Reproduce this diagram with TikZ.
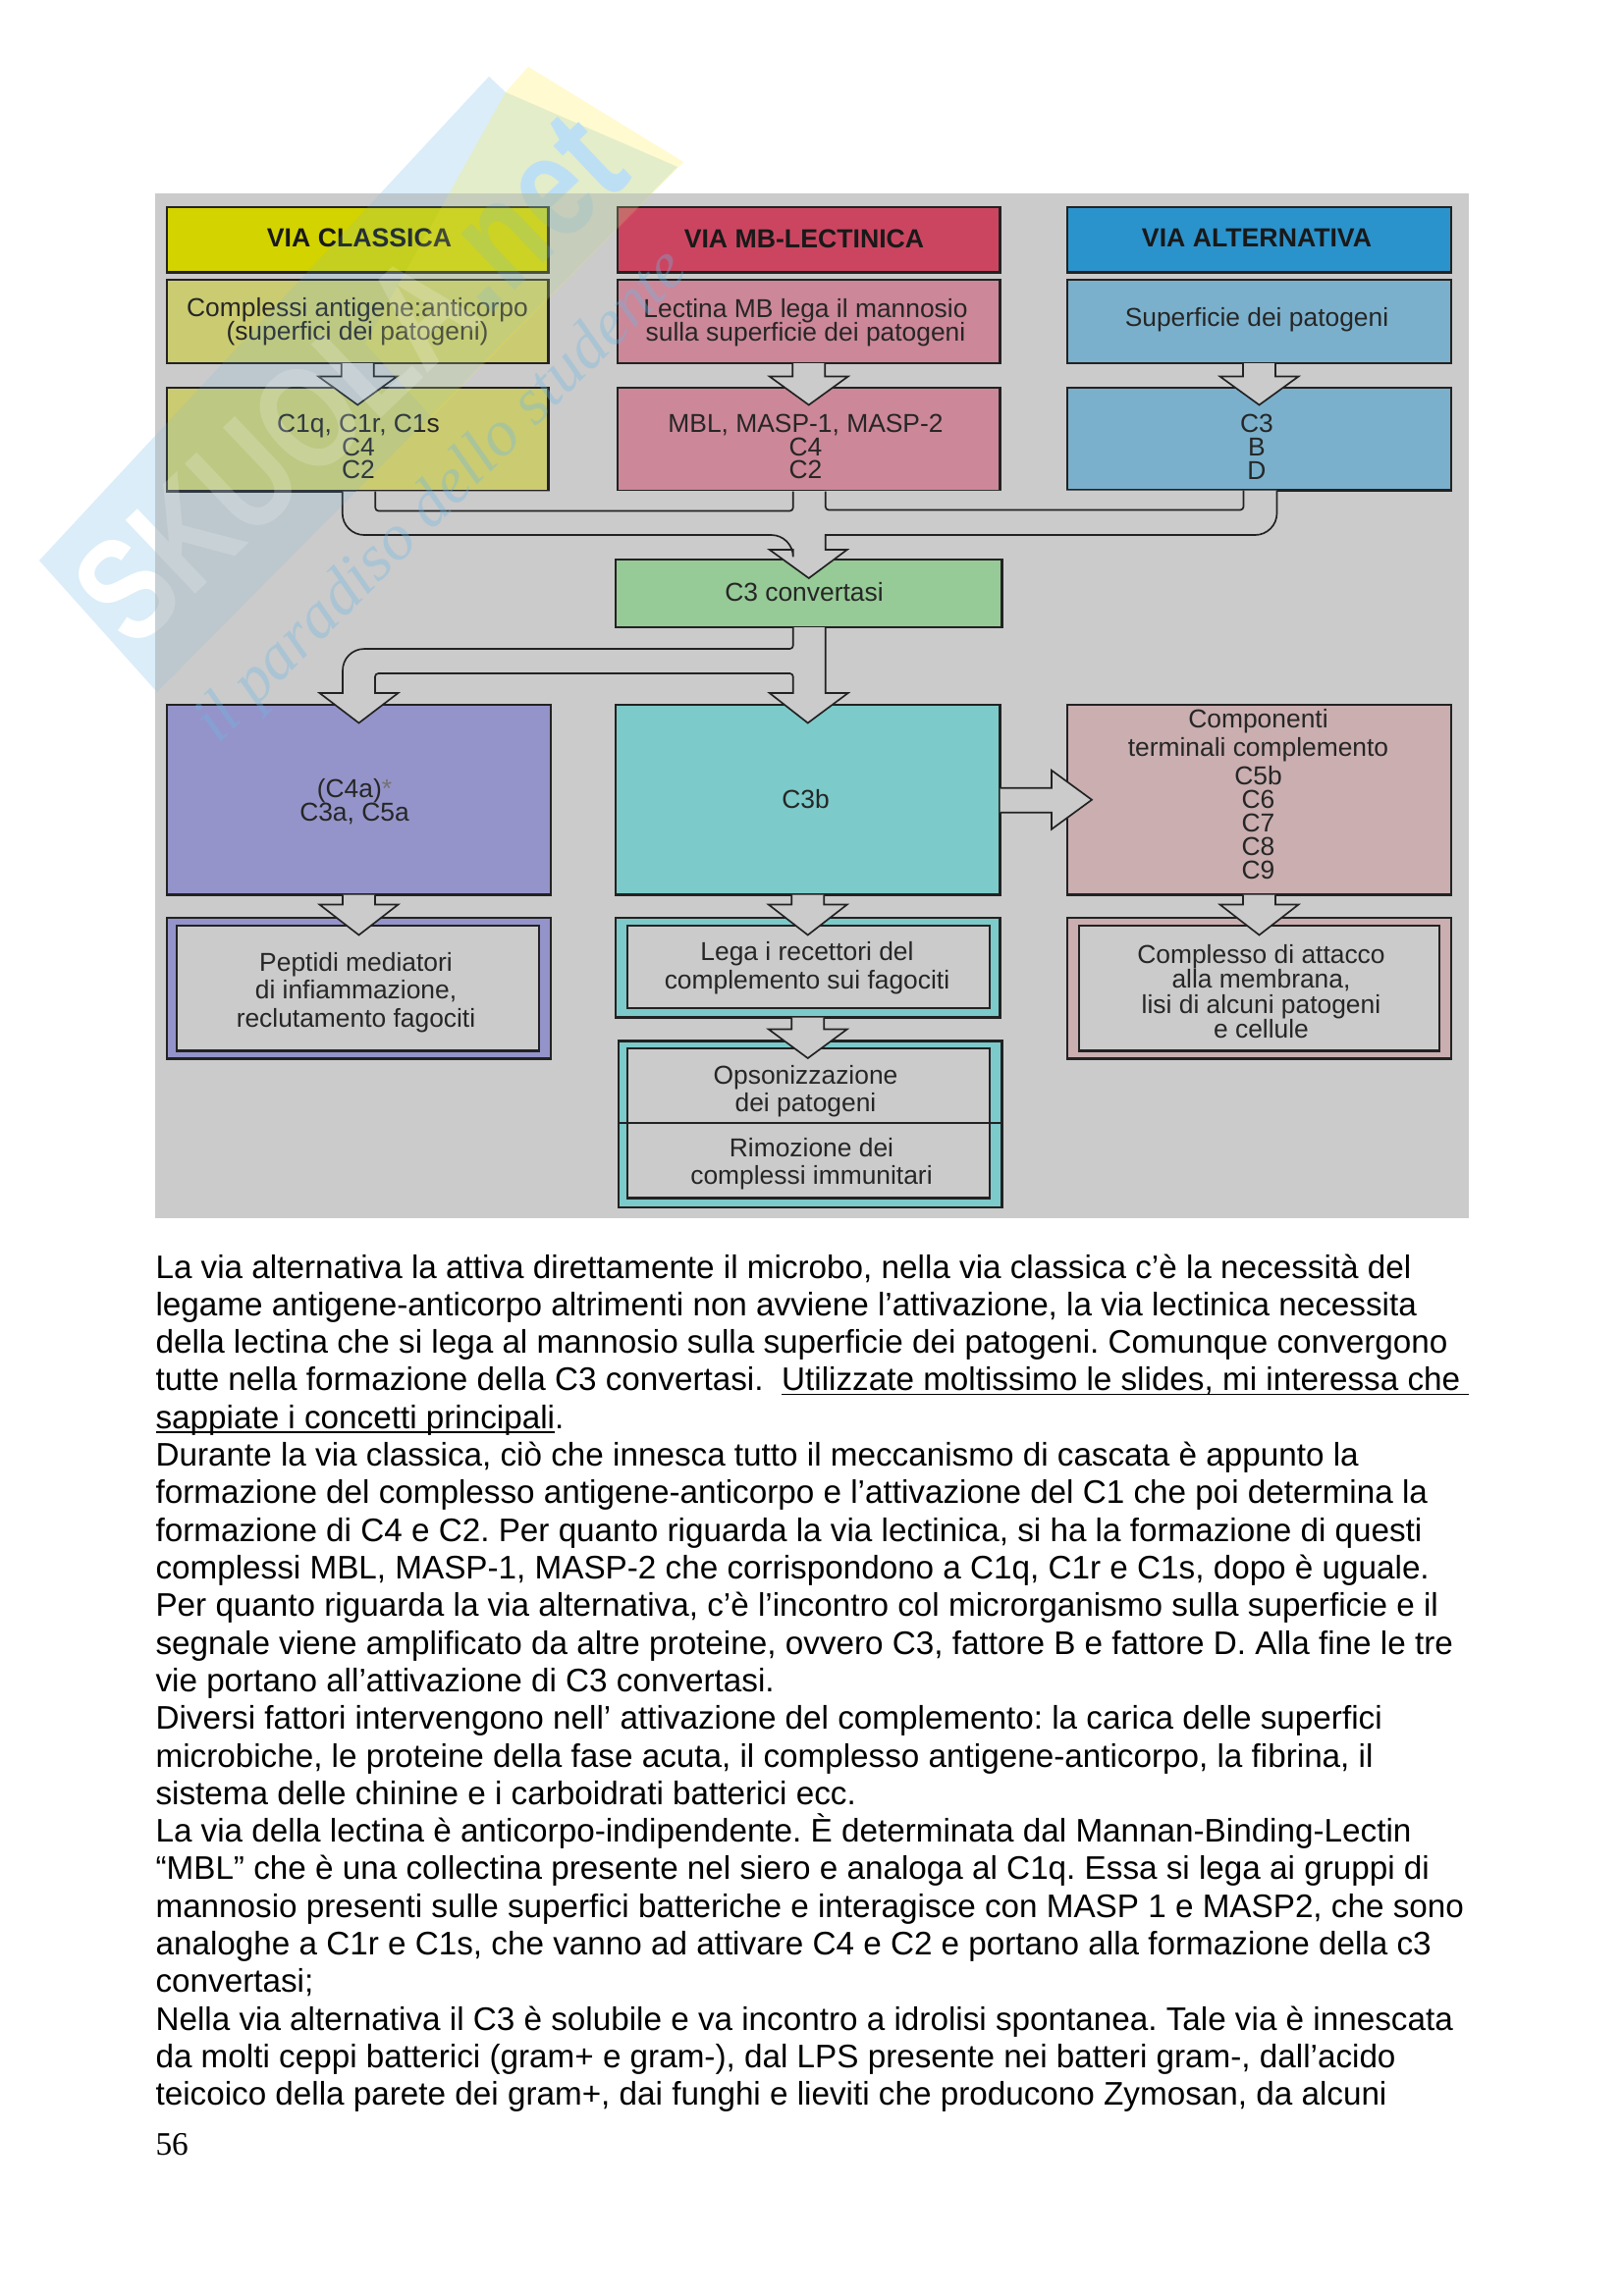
\documentclass[tikz,border=0pt]{standalone}
\usepackage{fontspec}
\usepackage{graphicx}
\setmainfont{Liberation Sans}
\newfontfamily\serifnum{Liberation Serif}
\usetikzlibrary{calc}
\frenchspacing
\newcommand\tightlines{\lineskiplimit=-10pt\relax}
\definecolor{panelgray}{HTML}{CBCBCB}
\definecolor{ytitle}{HTML}{D3D300}
\definecolor{ybox}{HTML}{CBCB72}
\definecolor{rtitle}{HTML}{CC4560}
\definecolor{rbox}{HTML}{CC8799}
\definecolor{btitle}{HTML}{2B93CC}
\definecolor{bbox}{HTML}{7AB0CC}
\definecolor{gbox}{HTML}{96CA96}
\definecolor{pbox}{HTML}{9494CA}
\definecolor{tbox}{HTML}{7CCACA}
\definecolor{mbox}{HTML}{CAAEB0}
\definecolor{edge}{HTML}{222222}
\definecolor{wmblue}{HTML}{6DB8E6}
\definecolor{wmyellow}{HTML}{FFEE44}
\tikzset{
 box/.style={draw=edge,line width=0.75pt,inner sep=0pt,outer sep=0pt,rectangle},
 innerbox/.style={draw=edge,line width=0.9pt,fill=panelgray,inner sep=0pt,outer sep=0pt,rectangle},
 arrowline/.style={draw=edge,line width=0.6pt,fill=panelgray,line join=miter},
 txt/.style={align=center,inner sep=0pt,text=black!85,font=\fontsize{9.5}{8.6}\selectfont\tightlines},
 txtwide/.style={align=center,inner sep=0pt,text=black!85,font=\fontsize{9.5}{10.2}\selectfont\tightlines},
 ttl/.style={align=center,inner sep=0pt,text=black!90,font=\fontsize{9.6}{10}\selectfont\bfseries},
 bodyline/.style={anchor=base west,inner sep=0pt,font=\fontsize{11.97}{13.8}\selectfont,text=black},
}
\newcommand\ulx[1]{\leavevmode\setbox0=\hbox{#1}\rlap{\rule[-1.55pt]{\wd0}{0.6pt}}\box0}
\newcommand\bx[6]{\node[#6,minimum width={(#4-#2)*0.36pt},minimum height={(#5-#3)*0.36pt}] (#1) at ({(#2+#4)/2},{(#3+#5)/2}) {};}
\newcommand\blockdown[3]{\filldraw[arrowline] ($(#1.south)+(-16.5,0)$) -- ($(#1.south)+(-16.5,#3)$) -- ($(#1.south)+(-40,#3)$) -- ($(#1.south |- #2.north)+(0,17.5)$) -- ($(#1.south)+(40,#3)$) -- ($(#1.south)+(16.5,#3)$) -- ($(#1.south)+(16.5,0)$);}
\newcommand\wmshapes{%
 \fill[wmblue] (40,571) -- (498,78) -- (515,94) -- (690,170) -- (160,705) -- cycle;
 \fill[wmyellow] (515,94) -- (538,68) -- (696,165) -- (440,425) -- (372,350) -- cycle;
}
\newcommand\wmletters[1]{\scalebox{0.78}[1]{SKUOLA\textcolor{#1}{.net}}}
\begin{document}
\begin{tikzpicture}[x=0.36pt,y=-0.36pt]
\useasboundingbox (0,0) rectangle (1653,2339);
\fill[white] (0,0) rectangle (1653,2339);
% watermark on the page
\begin{scope}[opacity=0.25]
 \wmshapes
\end{scope}
\node[rotate=43.5,text=white,font=\fontsize{54}{54}\selectfont\bfseries,inner sep=0pt] (wmlogo) at (356,385) {\wmletters{wmblue!45}};
% panel
\fill[panelgray] (158,197) rectangle (1496,1241);
% boxes
\bx{ta}{170}{211}{558.5}{277.5}{box,fill=ytitle}
\bx{tb}{629}{211}{1018.5}{277.5}{box,fill=rtitle}
\bx{tc}{1087}{211}{1478}{277.5}{box,fill=btitle}
\bx{sa}{170}{285}{558.5}{370}{box,fill=ybox}
\bx{sb}{629}{285}{1018.5}{370}{box,fill=rbox}
\bx{sc}{1087}{285}{1478}{370}{box,fill=bbox}
\bx{ca}{170}{395}{558.5}{500.5}{box,fill=ybox}
\bx{cb}{629}{395}{1018.5}{500.5}{box,fill=rbox}
\bx{cc}{1087}{395}{1478}{499.5}{box,fill=bbox}
\bx{conv}{627}{570}{1020.5}{639}{box,fill=gbox}
\bx{pa}{170}{718}{561}{911.5}{box,fill=pbox}
\bx{pb}{627}{718}{1018.5}{911.5}{box,fill=tbox}
\bx{pc}{1087}{718}{1478}{911.5}{box,fill=mbox}
\bx{oa}{170}{935}{561}{1078.5}{box,fill=pbox}
\bx{oai}{180}{943}{549}{1070.5}{innerbox}
\bx{ob}{627}{935}{1018.5}{1036.5}{box,fill=tbox}
\bx{obi}{639}{943}{1008}{1027}{innerbox}
\bx{od}{630}{1060.5}{1020.5}{1230}{box,fill=tbox}
\bx{odi}{639}{1068}{1008}{1220.5}{innerbox}
\bx{oc}{1087}{935}{1478}{1078.5}{box,fill=mbox}
\bx{oci}{1099}{943}{1466}{1070.5}{innerbox}
\draw[edge,line width=0.75pt] (od.west |- 0,1144) coordinate (dl) -- (od.east |- dl);
% merging channels
\filldraw[arrowline] ($(ca.south)+(-15.5,0)$) [rounded corners=8pt] |- ($(conv.north)+(-16,-25)$) [sharp corners] -- ($(conv.north)+(-16,-10)$) -- ($(conv.north)+(-40,-10)$) -- ($(conv.north)+(0,19)$) -- ($(conv.north)+(39,-10)$) -- ($(conv.north)+(17,-10)$) -- ($(conv.north)+(17,-25)$) [rounded corners=8pt] -| ($(cc.south)+(18,0)$);
\draw[arrowline,fill=none,rounded corners=1.2pt] ($(ca.south)+(18,0)$) |- ($(cb.south)+(-16,20)$) -- ($(cb.south)+(-16,0)$);
\draw[arrowline,fill=none,rounded corners=1.2pt] ($(cb.south)+(17,0)$) |- ($(cc.south)+(-16,20)$) -- ($(cc.south)+(-16,0)$);
% splitting from the convertase
\filldraw[arrowline] ($(conv.south)+(-16,0)$) [rounded corners=1.2pt] -- ($(conv.south)+(-16,22)$) [rounded corners=8pt] -- ($(conv.south |- conv.south)+(-16,22)+(-459,0)$) [sharp corners] -- ($(pa.north)+(-16.5,-35)$) [sharp corners] -- ($(pa.north)+(-16.5,-12)$) -- ($(pa.north)+(-40,-12)$) -- ($(pa.north)+(0,18.5)$) -- ($(pa.north)+(40,-12)$) -- ($(pa.north)+(16.5,-12)$) [rounded corners=1.2pt] -- ($(pa.north)+(16.5,-32)$) -- ($(pb.north)+(-15,-32)$) [sharp corners] -- ($(pb.north)+(-15,-12)$) -- ($(pb.north)+(-39,-12)$) -- ($(pb.north)+(0,18.5)$) -- ($(pb.north)+(41,-12)$) -- ($(pb.north)+(18,-12)$) -- ($(conv.south)+(17,0)$);
% block arrows
\blockdown{sa}{ca}{13.5}
\blockdown{sb}{cb}{13.5}
\blockdown{sc}{cc}{13.5}
\blockdown{pa}{oa}{10}
\blockdown{pb}{ob}{10}
\blockdown{pc}{oc}{10}
\blockdown{ob}{od}{12}
\filldraw[arrowline] ($(pb.east)+(0,-12)$) -- ($(pb.east)+(52.5,-12)$) -- ($(pb.east)+(52.5,-30)$) -- ($(pc.west)+(25,0)$) -- ($(pb.east)+(52.5,30)$) -- ($(pb.east)+(52.5,13)$) -- ($(pb.east)+(0,13)$);
% labels
\node[ttl] (xta) at (366,242) {VIA CLASSICA};
\node[ttl] (xtb) at (819,243) {VIA MB-LECTINICA};
\node[ttl] (xtc) at (1280,242) {VIA ALTERNATIVA};
\node[txt] (xsa) at (364,328) {Complessi antigene:anticorpo\\(superfici dei patogeni)};
\node[txt] (xsb) at (820.5,329) {Lectina MB lega il mannosio\\sulla superficie dei patogeni};
\node[txt] (xsc) at (1280,326) {Superficie dei patogeni};
\node[txt] (xca) at (365,455) {C1q, C1r, C1s\\C4\\C2};
\node[txt] (xcb) at (820.5,455) {MBL, MASP-1, MASP-2\\C4\\C2};
\node[txt] (xcc) at (1280,455) {C3\\B\\D};
\node[txt] (xconv) at (819,603) {C3 convertasi};
\node[txt] (xpa) at (361,817) {(C4a)\textcolor{black!55}{*}\\C3a, C5a};
\node[txt] (xpb) at (820.5,814.5) {C3b};
\node[txt] (xpc) at (1281.5,809) {Componenti\\[1.9pt]terminali complemento\\[1.9pt]C5b\\C6\\C7\\C8\\C9};
\node[txtwide] (xoa) at (362.5,1011) {Peptidi mediatori\\di infiammazione,\\reclutamento fagociti};
\node[txtwide] (xob) at (822,986) {Lega i recettori del\\complemento sui fagociti};
\node[txtwide] (xod) at (820.5,1111.5) {Opsonizzazione\\dei patogeni};
\node[txtwide] (xoe) at (826.5,1185.5) {Rimozione dei\\complessi immunitari};
\node[txt,font=\fontsize{9.5}{9.1}\selectfont\tightlines] (xoc) at (1284.5,1010) {Complesso di attacco\\alla membrana,\\lisi di alcuni patogeni\\e cellule};
% watermark over the picture
\begin{scope}
 \clip (158,197) rectangle (1496,1241);
 \begin{scope}[opacity=0.14]
  \wmshapes
 \end{scope}
 \node[rotate=43.5,text=white,text opacity=0.18,font=\fontsize{54}{54}\selectfont\bfseries,inner sep=0pt] (wmlogob) at (356,385) {\wmletters{wmblue}};
\end{scope}
\node[rotate=45,text=wmblue,text opacity=0.35,font=\fontsize{24}{24}\selectfont\serifnum\itshape,inner sep=0pt] (wmslogan) at (451,507) {il paradiso dello studente};
% body text
\foreach \ltxt [count=\i] in {
{La via alternativa la attiva direttamente il microbo, nella via classica c’è la necessità del},
{legame antigene-anticorpo altrimenti non avviene l’attivazione, la via lectinica necessita},
{della lectina che si lega al mannosio sulla superficie dei patogeni. Comunque convergono},
{tutte nella formazione della C3 convertasi.\ \ \ulx{Utilizzate moltissimo le slides, mi interessa che\ }},
{\ulx{sappiate i concetti principali}.},
{Durante la via classica, ciò che innesca tutto il meccanismo di cascata è appunto la},
{formazione del complesso antigene-anticorpo e l’attivazione del C1 che poi determina la},
{formazione di C4 e C2. Per quanto riguarda la via lectinica, si ha la formazione di questi},
{complessi MBL, MASP-1, MASP-2 che corrispondono a C1q, C1r e C1s, dopo è uguale.},
{Per quanto riguarda la via alternativa, c’è l’incontro col microrganismo sulla superficie e il},
{segnale viene amplificato da altre proteine, ovvero C3, fattore B e fattore D. Alla fine le tre},
{vie portano all’attivazione di C3 convertasi.},
{Diversi fattori intervengono nell’ attivazione del complemento: la carica delle superfici},
{microbiche, le proteine della fase acuta, il complesso antigene-anticorpo, la fibrina, il},
{sistema delle chinine e i carboidrati batterici ecc.},
{La via della lectina è anticorpo-indipendente. È determinata dal Mannan-Binding-Lectin},
{“MBL” che è una collectina presente nel siero e analoga al C1q. Essa si lega ai gruppi di},
{mannosio presenti sulle superfici batteriche e interagisce con MASP 1 e MASP2, che sono},
{analoghe a C1r e C1s, che vanno ad attivare C4 e C2 e portano alla formazione della c3},
{convertasi;},
{Nella via alternativa il C3 è solubile e va incontro a idrolisi spontanea. Tale via è innescata},
{da molti ceppi batterici (gram+ e gram-), dal LPS presente nei batteri gram-, dall’acido},
{teicoico della parete dei gram+, dai funghi e lieviti che producono Zymosan, da alcuni}
}{
 \node[bodyline,name=line\i] at (158,{1302+(\i-1)*38.31}) {\ltxt};
}
\node[bodyline,font=\fontsize{12}{13.8}\selectfont\serifnum] (pagenum) at (158,2195) {56};
\end{tikzpicture}
\end{document}
